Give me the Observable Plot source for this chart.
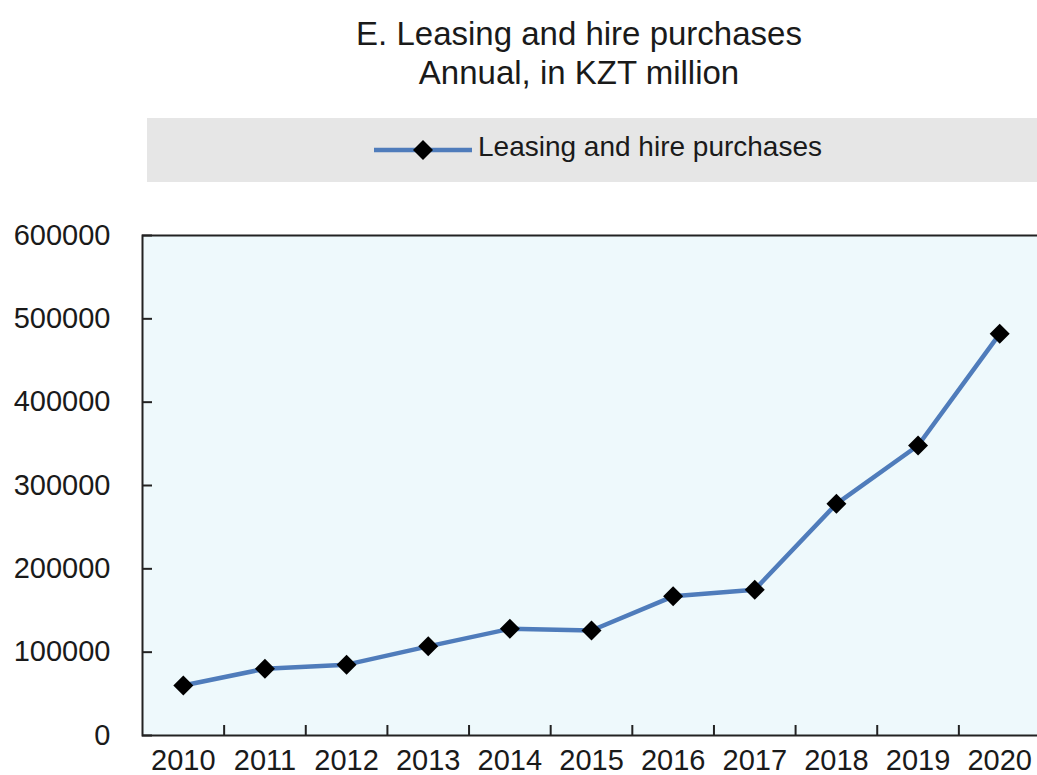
<!DOCTYPE html>
<html><head><meta charset="utf-8">
<script src="https://cdn.jsdelivr.net/npm/d3@7"></script>
<script src="https://cdn.jsdelivr.net/npm/@observablehq/plot@0.6"></script>
<style>
html,body{margin:0;padding:0;background:#fff;overflow:hidden;width:1037px;height:775px}
body{font-family:"Liberation Sans",Arial,sans-serif;color:#1a1a1a}
#header{position:relative;height:215px;width:1037px;overflow:hidden}
.t{position:absolute;left:0;width:1158px;text-align:center;line-height:1;white-space:nowrap}
#title{top:17px;font-size:33px}
#subtitle{top:56px;font-size:33px}
#legend{position:absolute;left:147px;top:118px;width:1000px;height:64px;background:#e6e6e6}
#legsym{position:absolute;left:227px;top:17px}
#legtext{position:absolute;left:331px;top:15px;font-size:28px;line-height:1;white-space:nowrap}
#chart{position:relative;width:1037px;height:560px;overflow:hidden}
#chart svg{max-width:none !important}
</style>
</head>
<body>
<div id="header">
  <div class="t" id="title"></div>
  <div class="t" id="subtitle"></div>
  <div id="legend">
    <svg id="legsym" width="100" height="30"></svg>
    <div id="legtext"></div>
  </div>
</div>
<div id="chart"></div>
<script>
const titleText = "E. Leasing and hire purchases";
const subtitleText = "Annual, in KZT million";
const seriesName = "Leasing and hire purchases";
const years = [2010, 2011, 2012, 2013, 2014, 2015, 2016, 2017, 2018, 2019, 2020];
const values = [60000, 80000, 85000, 107000, 128000, 126000, 167000, 175000, 278000, 348000, 482000];
const yTicks = [0, 100000, 200000, 300000, 400000, 500000, 600000];
const lineColor = "#4f7cbb";

document.getElementById("title").textContent = titleText;
document.getElementById("subtitle").textContent = subtitleText;
document.getElementById("legtext").textContent = seriesName;

// legend symbol
const ls = d3.select("#legsym");
ls.append("line").attr("x1", 0).attr("x2", 98).attr("y1", 15).attr("y2", 15)
  .attr("stroke", lineColor).attr("stroke-width", 4.5);
ls.append("path").attr("transform", "translate(49,15)")
  .attr("d", d3.symbol(d3.symbolDiamond2, Math.PI * 81)()).attr("fill", "#000");

const data = years.map((y, i) => ({year: y, value: values[i]}));
const boundaries = years.slice(1).map(y => y - 0.5);

const W = 1040, ML = 142, MR = 0;
const innerW = W - ML - MR;

const chart = Plot.plot({
  width: W,
  height: 560,
  marginTop: 20,
  marginBottom: 40,
  marginLeft: ML,
  marginRight: MR,
  style: {fontFamily: "Liberation Sans, Arial, sans-serif", fontSize: "29px", color: "#1a1a1a", background: "transparent", overflow: "visible", maxWidth: "none"},
  x: {domain: [years[0] - 0.5, years[years.length - 1] + 0.5]},
  y: {domain: [yTicks[0], yTicks[yTicks.length - 1]]},
  marks: [
    Plot.frame({fill: "#eef9fc", stroke: null}),
    Plot.ruleX(boundaries, {x: d => d, y1: 0, y2: 12000, stroke: "#222", strokeWidth: 2}),
    Plot.tickY(yTicks, {y: d => d, insetRight: innerW - 10, stroke: "#222", strokeWidth: 2}),
    Plot.line(data, {x: "year", y: "value", stroke: lineColor, strokeWidth: 4.5}),
    Plot.dot(data, {x: "year", y: "value", symbol: "diamond2", fill: "#000", stroke: null, r: 9}),
    Plot.frame({stroke: "#222", strokeWidth: 2}),
    Plot.axisX({ticks: years, tickSize: 0, tickPadding: 14, fontSize: 29, tickFormat: d => String(d), label: null}),
    Plot.axisY({ticks: yTicks, tickSize: 0, tickPadding: 32, fontSize: 29, tickFormat: d => String(d), label: null})
  ]
});
document.getElementById("chart").appendChild(chart);
</script>
</body></html>
